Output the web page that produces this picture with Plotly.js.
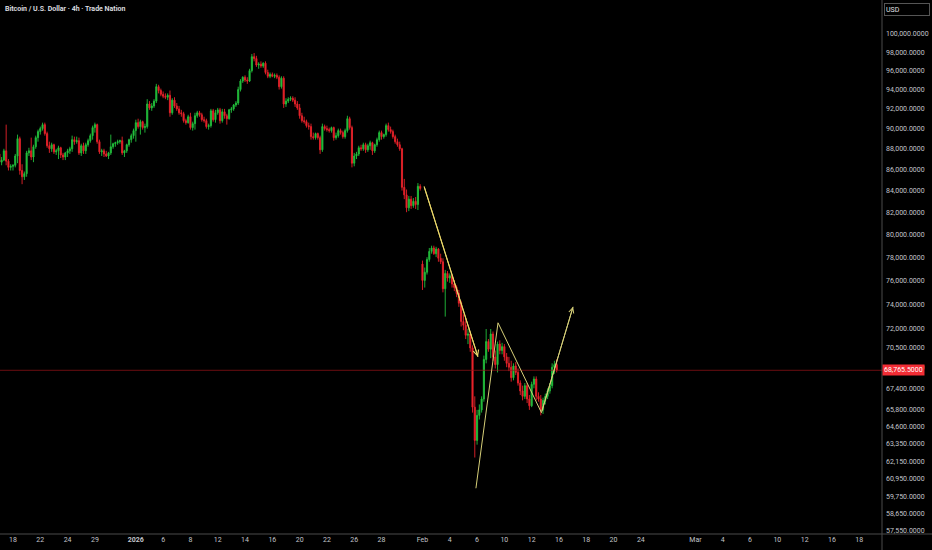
<!DOCTYPE html>
<html>
<head>
<meta charset="utf-8">
<script src="https://cdn.plot.ly/plotly-3.0.1.min.js"></script>
<style>
html,body{margin:0;padding:0;background:#000;}
#chart{width:932px;height:550px;}
</style>
</head>
<body>
<div id="chart"></div>
<script>
// 4h candles (prices in thousands of USD), one per trading-session slot
const opens = [87.5,86.7,86.9,87.8,86.8,86.2,86.3,86.4,87.3,89.0,85.9,85.3,85.6,87.6,87.8,87.2,88.2,89.1,89.7,90.0,
90.4,89.5,88.3,88.0,88.4,87.7,87.8,88.1,87.4,87.2,87.6,87.8,88.0,88.9,88.7,88.8,87.6,88.3,87.8,88.4,
88.8,89.3,90.1,90.4,88.7,87.7,87.8,87.5,87.3,87.6,88.2,88.5,88.6,88.7,88.8,87.6,87.8,88.4,88.9,89.3,
89.8,90.6,90.2,90.7,90.1,90.2,92.5,92.1,92.3,92.8,94.3,93.9,93.5,93.3,93.2,93.4,91.6,92.9,92.3,92.0,
91.6,91.5,90.8,90.6,91.2,90.1,90.5,91.3,91.6,91.4,90.9,90.8,90.2,90.3,91.8,90.9,91.6,91.9,90.8,91.7,
91.3,91.0,91.9,92.0,92.4,92.6,94.0,94.9,95.3,95.0,94.9,96.0,97.5,97.3,96.6,96.7,96.5,96.8,95.8,95.4,
95.6,95.4,95.5,95.3,94.3,95.2,92.5,92.8,93.0,93.1,92.9,92.5,92.1,91.3,90.8,90.7,90.3,90.2,89.2,89.1,
89.5,89.1,87.9,90.2,90.0,89.9,89.8,90.1,89.1,89.3,89.8,89.6,89.2,89.8,91.0,90.1,86.6,87.3,87.5,88.1,
88.0,88.4,87.9,88.3,88.6,87.8,88.4,88.9,89.6,89.2,89.4,90.3,89.9,89.7,89.2,88.7,88.4,88.0,84.3,83.6,
82.4,83.2,82.6,83.0,82.7,84.4,77.4,76.0,76.7,77.8,78.5,78.8,78.3,78.7,77.9,77.6,75.3,76.6,76.2,76.4,
75.7,75.4,74.9,74.1,72.6,72.3,71.5,71.6,70.5,66.0,63.6,65.4,65.8,66.6,69.6,71.0,70.4,71.6,69.8,69.2,
70.8,70.3,70.6,69.8,69.3,69.0,68.2,69.1,68.6,67.8,67.2,66.8,67.6,66.6,66.1,67.7,68.1,66.8,66.6,65.8,
66.5,66.8,67.2,67.6,69.0,69.2];
const highs = [87.9,87.2,88.0,90.4,87.0,86.5,86.5,87.5,89.4,89.2,86.5,85.8,87.8,88.1,89.1,88.4,89.3,89.9,90.2,90.6,
90.6,89.7,88.7,88.6,88.5,88.0,88.3,88.2,87.6,87.7,88.0,88.2,89.3,89.2,89.2,89.1,88.5,88.6,88.6,89.0,
89.5,90.3,90.6,90.5,88.9,88.0,88.0,87.8,87.7,89.4,88.6,88.7,88.9,88.9,89.2,87.9,88.5,89.0,89.5,90.0,
90.9,91.0,90.9,90.8,90.5,93.0,92.8,92.6,93.0,94.6,94.5,94.1,93.8,93.6,93.6,93.9,93.1,93.2,92.6,92.3,
91.9,91.7,91.0,91.4,91.6,90.7,91.6,91.8,91.8,91.6,91.2,91.0,90.5,92.0,92.0,91.9,92.1,92.1,92.0,92.0,
91.5,92.0,92.2,92.5,92.8,94.3,95.1,95.4,95.5,95.3,96.2,97.8,97.9,97.6,96.9,97.0,96.9,97.0,96.1,95.8,
95.8,95.7,95.7,95.5,95.4,95.4,93.1,93.2,93.3,93.3,93.2,92.8,92.5,91.6,91.2,90.9,90.6,90.5,89.6,89.6,
89.6,89.3,90.5,90.4,90.3,90.1,90.2,90.2,89.6,90.0,90.0,89.8,90.0,91.3,91.2,90.3,87.6,87.7,88.3,88.4,
88.6,88.6,88.5,88.8,88.7,88.5,89.1,89.8,89.8,89.5,90.5,90.6,90.2,89.9,89.4,89.0,88.7,88.1,85.1,84.1,
83.5,83.5,83.3,83.4,84.7,84.6,77.7,77.1,78.0,78.8,79.0,79.0,78.9,78.8,78.3,77.9,76.9,76.8,76.6,76.5,
76.0,75.6,75.2,74.3,73.2,72.9,72.0,71.8,70.7,66.8,65.8,66.2,66.8,69.9,72.0,71.2,72.0,71.8,70.3,71.0,
71.1,70.9,70.8,70.1,69.8,69.5,69.3,69.4,68.9,68.0,67.6,67.8,67.8,66.9,67.9,68.3,68.3,67.1,66.9,66.7,
67.0,67.4,67.8,69.3,69.5,69.6];
const lows = [86.5,86.4,86.8,86.4,85.9,85.9,85.9,86.2,86.6,85.5,84.6,85.0,85.3,87.3,86.9,86.7,88.0,88.7,89.4,89.8,
89.3,88.1,87.6,87.7,87.5,87.4,87.0,87.1,86.9,86.9,87.2,87.5,87.7,88.4,88.5,87.4,87.3,87.5,87.5,88.2,
88.6,88.9,89.6,88.5,87.5,87.3,87.2,87.2,87.0,87.4,88.0,88.2,88.4,88.5,87.4,87.2,87.6,88.2,88.6,89.0,
88.7,90.0,89.4,89.9,89.6,90.0,91.9,91.8,92.1,92.6,93.6,93.3,93.1,93.0,92.9,91.2,91.4,92.1,91.8,91.4,
91.2,90.6,90.4,90.5,89.9,89.8,89.9,91.1,91.2,90.7,90.6,90.0,89.9,90.1,90.7,90.6,91.4,90.5,90.6,91.0,
90.4,90.9,91.6,91.8,92.2,92.4,93.8,94.7,94.8,94.6,94.8,95.8,97.0,96.4,96.2,96.3,96.3,95.6,95.2,95.2,
95.3,95.2,95.1,94.0,94.1,92.1,92.2,92.6,92.8,92.7,92.2,91.9,91.0,90.6,90.5,90.1,89.9,88.9,88.9,88.9,
88.9,87.5,87.7,89.8,89.7,89.6,89.6,88.8,88.9,89.1,89.4,89.0,89.0,89.6,89.9,86.2,86.3,87.0,87.3,87.8,
87.8,87.6,87.7,87.9,87.4,87.6,88.2,88.7,88.9,89.0,89.2,89.7,89.5,89.0,88.5,88.2,87.8,84.0,83.2,82.0,
82.1,82.3,82.4,82.3,82.2,84.0,75.2,75.4,76.5,77.6,78.3,78.2,78.0,77.6,77.4,75.0,73.0,75.9,75.8,75.4,
75.1,74.6,73.8,72.2,71.9,71.2,70.8,70.2,65.6,62.4,63.3,65.1,65.6,66.4,69.3,70.2,69.7,69.5,68.9,68.6,
70.0,70.0,69.5,69.0,68.7,67.9,68.0,68.4,67.6,66.9,66.5,66.6,66.3,65.8,66.0,67.4,66.5,66.4,65.4,65.5,
66.2,66.6,67.0,67.4,68.5,68.6];
const closes = [86.7,86.9,87.8,86.8,86.2,86.3,86.4,87.3,89.0,85.9,85.3,85.6,87.6,87.8,87.2,88.2,89.1,89.7,90.0,90.4,
89.5,88.3,88.0,88.4,87.7,87.8,88.1,87.4,87.2,87.6,87.8,88.0,88.9,88.7,88.8,87.6,88.3,87.8,88.4,88.8,
89.3,90.1,90.4,88.7,87.7,87.8,87.5,87.3,87.6,88.2,88.5,88.6,88.7,88.8,87.6,87.8,88.4,88.9,89.3,89.8,
90.6,90.2,90.7,90.1,90.2,92.5,92.1,92.3,92.8,94.3,93.9,93.5,93.3,93.2,93.4,91.6,92.9,92.3,92.0,91.6,
91.5,90.8,90.6,91.2,90.1,90.5,91.3,91.6,91.4,90.9,90.8,90.2,90.3,91.8,90.9,91.6,91.9,90.8,91.7,91.3,
91.0,91.9,92.0,92.4,92.6,94.0,94.9,95.3,95.0,94.9,96.0,97.5,97.3,96.6,96.7,96.5,96.8,95.8,95.4,95.6,
95.4,95.5,95.3,94.3,95.2,92.5,92.8,93.0,93.1,92.9,92.5,92.1,91.3,90.8,90.7,90.3,90.2,89.2,89.1,89.5,
89.1,87.9,90.2,90.0,89.9,89.8,90.1,89.1,89.3,89.8,89.6,89.2,89.8,91.0,90.1,86.6,87.3,87.5,88.1,88.0,
88.4,87.9,88.3,88.6,87.8,88.4,88.9,89.6,89.2,89.4,90.3,89.9,89.7,89.2,88.7,88.4,88.0,84.3,83.6,82.4,
83.2,82.6,83.0,82.7,84.4,84.2,76.0,76.7,77.8,78.5,78.8,78.3,78.7,77.9,77.6,75.3,76.6,76.2,76.4,75.7,
75.4,74.9,74.1,72.6,72.3,71.5,71.6,70.5,66.0,63.6,65.4,65.8,66.6,69.6,71.0,70.4,71.6,69.8,69.2,70.8,
70.3,70.6,69.8,69.3,69.0,68.2,69.1,68.6,67.8,67.2,66.8,67.6,66.6,66.1,67.7,68.1,66.8,66.6,65.8,66.5,
66.8,67.2,67.6,69.0,69.2,68.7655];

// price-axis labels (USD)
const priceTicks = [100000,98000,96000,94000,92000,90000,88000,86000,84000,82000,80000,78000,76000,74000,72000,70500,69000,67400,65800,64600,63350,62150,60950,59750,58650,57550];

// time-axis labels, positioned in candle slots
const timeTickSlots = [6,18,30,42,60,72,84,96,108,120,132,144,156,168,186,198,210,222,234,246,258,270,282,306,318,330,342,354,366,378];
const timeTickLabels = ['18','22','24','29','<b>2026</b>','6','8','12','14','16','20','22','26','28','Feb','4','6','10','12','16','18','20','24','Mar','4','6','10','12','16','18'];

// user drawings (slot, USD)
const arrowDownX = [186.7, 210.4];
const arrowDownY = [84400, 69800];
const zigzagX = [209.5, 219.2, 238.3, 252.2];
const zigzagY = [60300, 72500, 65600, 73800];

const lastPrice = 68765.5;
const xSlotRange = [0.29, 388];

const K = v => v * 1000;
const slots = opens.map((_, i) => i);

const green = '#22c03c';
const red = '#e8232a';
const yel1 = '#ecd96a';
const yel2 = '#d6cf78';
const txt = '#c2c4ca';
const fontFam = 'Roboto, "Open Sans", sans-serif';

const traces = [
  {
    type: 'scatter', mode: 'lines',
    x: xSlotRange, y: [lastPrice, lastPrice],
    line: {color: 'rgba(150,20,24,0.9)', width: 0.8},
    hoverinfo: 'skip', showlegend: false
  },
  {
    type: 'candlestick',
    x: slots,
    open: opens.map(K), high: highs.map(K), low: lows.map(K), close: closes.map(K),
    increasing: {line: {color: green, width: 0.9}, fillcolor: green},
    decreasing: {line: {color: red, width: 0.9}, fillcolor: red},
    whiskerwidth: 0,
    showlegend: false
  },
  {
    type: 'scatter', mode: 'lines',
    x: arrowDownX, y: arrowDownY,
    line: {color: yel1, width: 1.1},
    hoverinfo: 'skip', showlegend: false
  },
  {
    type: 'scatter', mode: 'lines',
    x: zigzagX, y: zigzagY,
    line: {color: yel2, width: 1},
    hoverinfo: 'skip', showlegend: false
  }
];

const lg = Math.log10;
const layout = {
  width: 932, height: 550,
  margin: {l: 0, r: 50, t: 0, b: 16, pad: 0},
  paper_bgcolor: '#000', plot_bgcolor: '#000',
  font: {family: fontFam, size: 7, color: txt},
  showlegend: false,
  boxgap: 0.3,
  xaxis: {
    type: 'linear', range: xSlotRange,
    tickvals: timeTickSlots, ticktext: timeTickLabels,
    showgrid: false, zeroline: false, showline: false, ticks: '',
    tickfont: {size: 7, color: txt, family: fontFam},
    rangeslider: {visible: false}, fixedrange: true
  },
  yaxis: {
    type: 'log', side: 'right',
    range: [4.7582, 5.01644],
    autorange: false,
    tickvals: priceTicks, tickformat: ',.4f',
    showgrid: false, zeroline: false, showline: false, ticks: '',
    ticklabelstandoff: 3,
    tickfont: {size: 7, color: txt, family: fontFam},
    fixedrange: true
  },
  shapes: [
    {type: 'line', xref: 'paper', yref: 'paper', x0: 0, x1: 1.06, y0: 0, y1: 0,
     line: {color: '#4b4b4b', width: 1}},
    {type: 'line', xref: 'paper', yref: 'paper', x0: 1, x1: 1, y0: -0.04, y1: 1,
     line: {color: '#4b4b4b', width: 1}}
  ],
  annotations: [
    {xref: 'paper', yref: 'paper', x: 0, y: 1, xanchor: 'left', yanchor: 'top',
     xshift: 3, yshift: -3, showarrow: false,
     text: 'Bitcoin / U.S. Dollar · 4h · Trade Nation',
     font: {size: 7, color: '#e0e2e8', family: fontFam, weight: 600}},
    {xref: 'paper', yref: 'paper', x: 1, y: 1, xanchor: 'left', yanchor: 'top',
     xshift: 2, yshift: -3, showarrow: false, text: 'USD', align: 'left',
     width: 42, height: 9, bgcolor: '#000', bordercolor: '#555', borderwidth: 1, borderpad: 1,
     font: {size: 7, color: '#e0e2e8', family: fontFam}},
    {xref: 'paper', yref: 'y', x: 1, y: lg(lastPrice), xanchor: 'left', yanchor: 'middle',
     showarrow: false, text: lastPrice.toLocaleString('en-US', {minimumFractionDigits: 4}),
     align: 'left', width: 39, height: 8, bgcolor: '#f22d35', borderpad: 1,
     font: {size: 7, color: '#ffffff', family: fontFam}},
    {xref: 'x', yref: 'y', axref: 'x', ayref: 'y',
     x: arrowDownX[1], y: lg(arrowDownY[1]),
     ax: arrowDownX[0], ay: lg(arrowDownY[0]),
     text: '', showarrow: true, arrowhead: 5, arrowsize: 1.1, arrowwidth: 1,
     arrowcolor: yel1, standoff: 0},
    {xref: 'x', yref: 'y', axref: 'x', ayref: 'y',
     x: zigzagX[3], y: lg(zigzagY[3]),
     ax: zigzagX[2], ay: lg(zigzagY[2]),
     text: '', showarrow: true, arrowhead: 5, arrowsize: 1, arrowwidth: 1,
     arrowcolor: yel2, standoff: 0}
  ]
};

Plotly.newPlot('chart', traces, layout, {displayModeBar: false, staticPlot: true});
</script>
</body>
</html>
